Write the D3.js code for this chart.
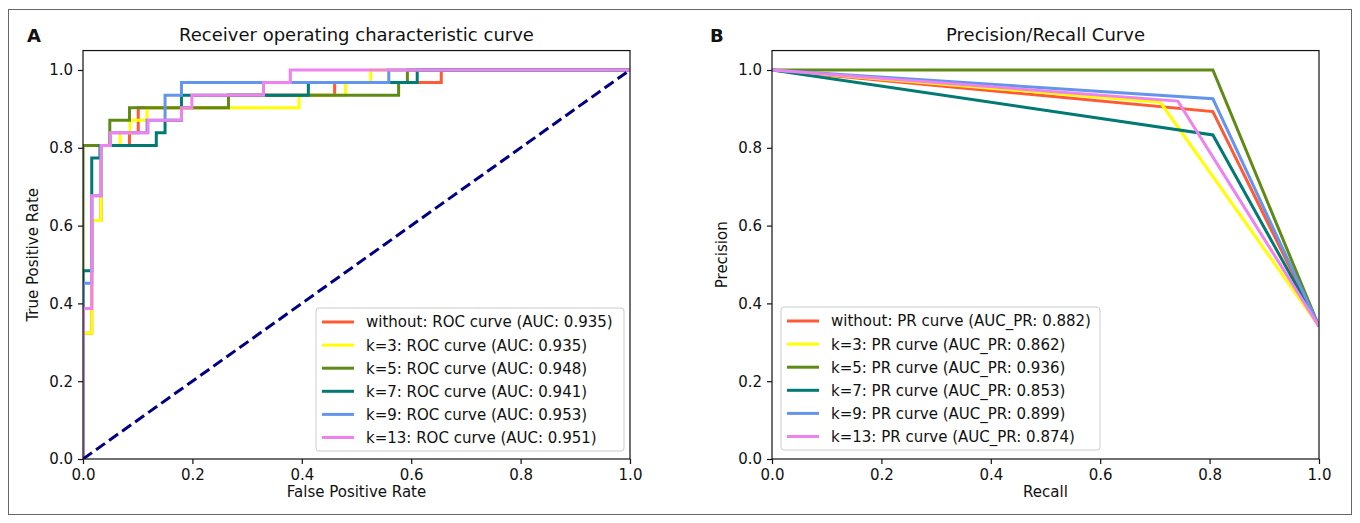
<!DOCTYPE html>
<html>
<head>
<meta charset="utf-8">
<script src="https://cdn.jsdelivr.net/npm/d3@7"></script>
<style>
  html, body { margin: 0; padding: 0; background: #fff; }
  svg { display: block; font-family: "DejaVu Sans", sans-serif; }
</style>
</head>
<body>
<svg id="chart" width="1360" height="523"></svg>
<script>
// ---------------- DATA ----------------
const seriesNames = ["without", "k=3", "k=5", "k=7", "k=9", "k=13"];
const rocAuc = ["0.935", "0.935", "0.948", "0.941", "0.953", "0.951"];
const prAuc  = ["0.882", "0.862", "0.936", "0.853", "0.899", "0.874"];

// ROC curves: [false positive rate, true positive rate]
const rocWithout = [[0,0],[0,0.323],[0.016,0.323],[0.016,0.613],[0.033,0.613],[0.033,0.806],[0.085,0.806],[0.085,0.839],[0.101,0.839],[0.101,0.903],[0.266,0.903],[0.266,0.935],[0.46,0.935],[0.46,0.968],[0.655,0.968],[0.655,1],[1,1]];
const rocK3 = [[0,0],[0,0.323],[0.016,0.323],[0.016,0.613],[0.033,0.613],[0.033,0.806],[0.068,0.806],[0.068,0.839],[0.086,0.839],[0.086,0.871],[0.117,0.871],[0.117,0.903],[0.395,0.903],[0.395,0.935],[0.48,0.935],[0.48,0.968],[0.526,0.968],[0.526,1],[1,1]];
const rocK5 = [[0,0],[0,0.806],[0.049,0.806],[0.049,0.871],[0.085,0.871],[0.085,0.903],[0.266,0.903],[0.266,0.935],[0.577,0.935],[0.577,0.968],[0.593,0.968],[0.593,1],[1,1]];
const rocK7 = [[0,0],[0,0.484],[0.016,0.484],[0.016,0.774],[0.031,0.774],[0.031,0.806],[0.134,0.806],[0.134,0.839],[0.15,0.839],[0.15,0.871],[0.18,0.871],[0.18,0.935],[0.412,0.935],[0.412,0.968],[0.611,0.968],[0.611,1],[1,1]];
const rocK9 = [[0,0],[0,0.452],[0.016,0.452],[0.016,0.677],[0.033,0.677],[0.033,0.806],[0.05,0.806],[0.05,0.839],[0.117,0.839],[0.117,0.871],[0.15,0.871],[0.15,0.935],[0.18,0.935],[0.18,0.968],[0.559,0.968],[0.559,1],[1,1]];
const rocK13 = [[0,0],[0,0.387],[0.016,0.387],[0.016,0.677],[0.033,0.677],[0.033,0.806],[0.05,0.806],[0.05,0.839],[0.119,0.839],[0.119,0.871],[0.18,0.871],[0.18,0.903],[0.199,0.903],[0.199,0.935],[0.33,0.935],[0.33,0.968],[0.379,0.968],[0.379,1],[1,1]];
const rocDiagonal = [[0,0],[1,1]];

// PR curves: recall / precision points
const prRecall = [
  [0, 0.806, 1],
  [0, 0.71, 1],
  [0, 0.806, 1],
  [0, 0.806, 1],
  [0, 0.806, 1],
  [0, 0.742, 1]
];
const prPrecision = [
  [1, 0.893, 0.341],
  [1, 0.917, 0.341],
  [1, 1.0, 0.341],
  [1, 0.833, 0.341],
  [1, 0.926, 0.341],
  [1, 0.92, 0.341]
];

const tickValues = [0, 0.2, 0.4, 0.6, 0.8, 1.0];

// ---------------- STYLE ----------------
const colors = ["#ff5a36", "#ffff00", "#5f8a14", "#007a72", "#6495ed", "#ee82ee"];
const FS = 15;

const svg = d3.select("#chart");

// outer frame
svg.append("rect").attr("x", 8.5).attr("y", 9.5).attr("width", 1343).attr("height", 505)
  .attr("fill", "none").attr("stroke", "#666").attr("stroke-width", 1);

function makePanel(opts) {
  const x = d3.scaleLinear().domain([0, 1]).range([opts.x0, opts.x1]);
  const y = d3.scaleLinear().domain([0, 1.05]).range([459 + 0.0, 459 - 1.05 * 389]);
  const g = svg.append("g");

  // clip
  const clipId = "clip" + opts.id;
  svg.append("clipPath").attr("id", clipId).append("rect")
    .attr("x", opts.x0).attr("y", y(1.05)).attr("width", opts.x1 - opts.x0).attr("height", y(0) - y(1.05));

  const plot = g.append("g").attr("clip-path", `url(#${clipId})`);
  opts.draw(plot, x, y);

  // axes
  const xAxis = g.append("g").attr("transform", `translate(0,${y(0)})`)
    .call(d3.axisBottom(x).tickValues(tickValues).tickFormat(d3.format(".1f")).tickSize(5).tickPadding(5));
  const yAxis = g.append("g").attr("transform", `translate(${opts.x0},0)`)
    .call(d3.axisLeft(y).tickValues(tickValues).tickFormat(d3.format(".1f")).tickSize(5).tickPadding(5));
  [xAxis, yAxis].forEach(a => {
    a.select(".domain").remove();
    a.selectAll(".tick line").attr("stroke", "#111").attr("stroke-width", 1.2);
    a.selectAll(".tick text").attr("fill", "#111").attr("font-size", FS).attr("font-family", "DejaVu Sans");
  });
  // spines
  g.append("rect").attr("x", opts.x0).attr("y", y(1.05)).attr("width", opts.x1 - opts.x0).attr("height", y(0) - y(1.05))
    .attr("fill", "none").attr("stroke", "#111").attr("stroke-width", 1.2);

  // title
  g.append("text").attr("x", (opts.x0 + opts.x1) / 2).attr("y", 41).attr("text-anchor", "middle")
    .attr("font-size", 18).attr("fill", "#111").text(opts.title);
  // x label
  g.append("text").attr("x", (opts.x0 + opts.x1) / 2).attr("y", 497).attr("text-anchor", "middle")
    .attr("font-size", FS).attr("fill", "#111").text(opts.xlabel);
  // y label
  g.append("text").attr("transform", `translate(${opts.x0 - 45},${(y(0) + y(1.05)) / 2}) rotate(-90)`)
    .attr("text-anchor", "middle").attr("font-size", FS).attr("fill", "#111").text(opts.ylabel);
  // panel letter
  g.append("text").attr("x", opts.letterX).attr("y", 42).attr("font-size", 18).attr("font-weight", "bold")
    .attr("fill", "#111").text(opts.letter);

  // legend
  const lg = g.append("g");
  const lx = opts.legX, ly = opts.legY, lw = opts.legW, lh = 143;
  lg.append("rect").attr("x", lx).attr("y", ly).attr("width", lw).attr("height", lh).attr("rx", 3)
    .attr("fill", "rgba(255,255,255,0.85)").attr("stroke", "#cccccc").attr("stroke-width", 1);
  opts.labels.forEach((t, i) => {
    const cy = ly + 14 + i * 23.1;
    lg.append("line").attr("x1", lx + 6).attr("x2", lx + 38).attr("y1", cy).attr("y2", cy)
      .attr("stroke", colors[i]).attr("stroke-width", 3);
    lg.append("text").attr("x", lx + 50).attr("y", cy).attr("dy", "0.36em").attr("font-size", FS)
      .attr("fill", "#111").text(t);
  });
}

// ---------------- ROC PANEL ----------------
const rocSeries = [rocWithout, rocK3, rocK5, rocK7, rocK9, rocK13];
makePanel({
  id: "roc", x0: 83, x1: 630, title: "Receiver operating characteristic curve",
  xlabel: "False Positive Rate", ylabel: "True Positive Rate", letter: "A", letterX: 27,
  legX: 316, legY: 308, legW: 308,
  labels: seriesNames.map((n, i) => `${n}: ROC curve (AUC: ${rocAuc[i]})`),
  draw: (p, x, y) => {
    const line = d3.line().x(d => x(d[0])).y(d => y(d[1]));
    rocSeries.forEach((s, i) => {
      p.append("path").datum(s).attr("d", line).attr("fill", "none")
        .attr("stroke", colors[i]).attr("stroke-width", 3).attr("stroke-linejoin", "miter");
    });
    p.append("path").datum(rocDiagonal).attr("d", line).attr("fill", "none")
      .attr("stroke", "#000080").attr("stroke-width", 3).attr("stroke-dasharray", "11,5");
  }
});

// ---------------- PR PANEL ----------------
makePanel({
  id: "pr", x0: 772, x1: 1319, title: "Precision/Recall Curve",
  xlabel: "Recall", ylabel: "Precision", letter: "B", letterX: 710,
  legX: 781, legY: 307, legW: 319,
  labels: seriesNames.map((n, i) => `${n}: PR curve (AUC_PR: ${prAuc[i]})`),
  draw: (p, x, y) => {
    const line = d3.line().x(d => x(d[0])).y(d => y(d[1]));
    prRecall.forEach((r, i) => {
      const pts = r.map((v, j) => [v, prPrecision[i][j]]);
      p.append("path").datum(pts).attr("d", line).attr("fill", "none")
        .attr("stroke", colors[i]).attr("stroke-width", 3).attr("stroke-linejoin", "miter");
    });
  }
});
</script>
</body>
</html>
